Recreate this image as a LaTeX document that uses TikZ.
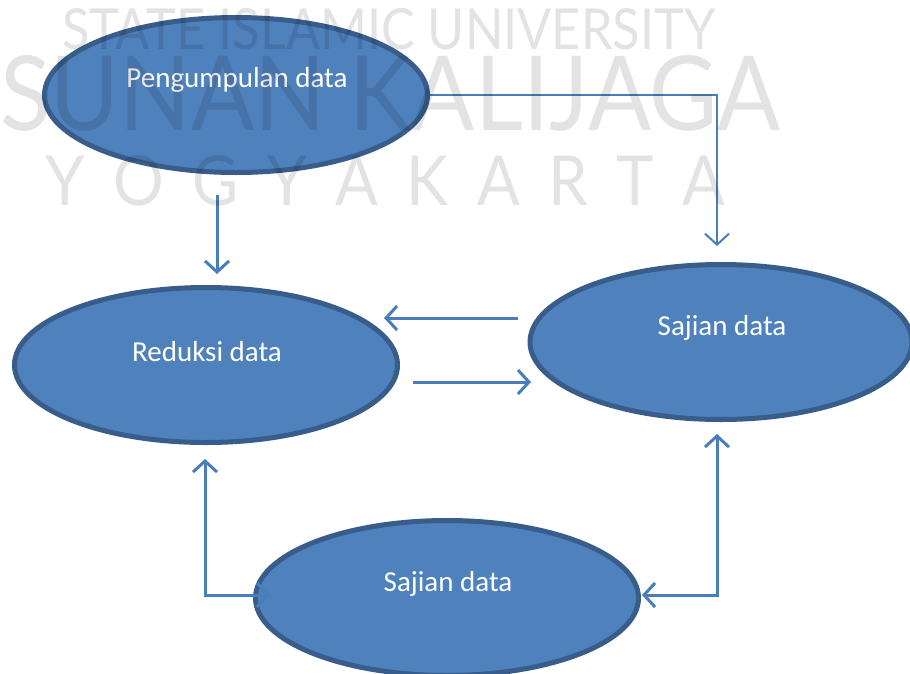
\documentclass[tikz,border=0pt]{standalone}
\usepackage{fontspec}
\usepackage{graphicx}
\setmainfont{Carlito}
\newfontfamily\wmfont{Lato}
\usetikzlibrary{shapes.geometric,arrows.meta}
\definecolor{ofill}{HTML}{4F81BD}
\definecolor{oline}{HTML}{385D8A}
\definecolor{conn}{HTML}{4A7EBB}
\tikzset{
  oval/.style={ellipse,draw=oline,fill=ofill,line width=5pt,minimum width=383pt,minimum height=155pt,inner sep=0pt},
  otext/.style={text=white,font=\fontsize{29}{34}\selectfont,inner sep=0pt},
  link/.style={draw=conn,line width=3pt,arrows={-Straight Barb[length=11pt,width=24pt]}},
  dlink/.style={draw=conn,line width=3pt,arrows={Straight Barb[length=11pt,width=24pt]-Straight Barb[length=11pt,width=24pt]}},
  wm/.style={text=black,opacity=0.11,inner sep=0pt,font=\wmfont},
}
\begin{document}
\begin{tikzpicture}[x=1pt,y=-1pt]
\useasboundingbox (0,0) rectangle (910,673);
\fill[white] (0,0) rectangle (910,673);
\begin{scope}
\clip (0,0) rectangle (910,673);
% ellipses
\node[oval] (pe) at (236,95) {};
\node[oval] (re) at (206,365) {};
\node[oval,minimum width=382pt] (se) at (721,342) {};
\node[oval] (be) at (447,598) {};
% texts
\node[otext] (pet) at (237,80) {Pengumpulan data};
\node[otext] (ret) at (207,352) {Reduksi data};
\node[otext] (set) at (722,328) {Sajian data};
\node[otext] (bet) at (448,584) {Sajian data};
% free ends
\coordinate (t1) at (717,246);
\coordinate (d1) at (217,195);
\coordinate (d2) at (217,274);
\coordinate (l1) at (518,318);
\coordinate (l2) at (384,318);
\coordinate (r1) at (413,382);
\coordinate (r2) at (531,382);
\coordinate (u1) at (205,459);
\coordinate (u2) at (270,595);
\coordinate (v1) at (717,434);
\coordinate (v2) at (642,595);
% connectors
\draw[link,line width=2pt] (pe.east) -| (t1);
\draw[link] (d1) -- (d2);
\draw[link] (l1) -- (l2);
\draw[link] (r1) -- (r2);
\draw[dlink] (u1) |- (u2);
\draw[dlink] (v1) |- (v2);
% watermark
\node[wm,anchor=north west] (w1) at (62,8) {\resizebox{653pt}{41pt}{STATE ISLAMIC UNIVERSITY}};
\node[wm,anchor=north west] (w2) at (0,55) {\resizebox{780pt}{75pt}{SUNAN KALIJAGA}};
\node[wm,anchor=north west] (w3) at (45,155) {\resizebox{680pt}{50pt}{Y\kern.45em O\kern.45em G\kern.45em Y\kern.45em A\kern.45em K\kern.45em A\kern.45em R\kern.45em T\kern.45em A}};
\end{scope}
\end{tikzpicture}
\end{document}
